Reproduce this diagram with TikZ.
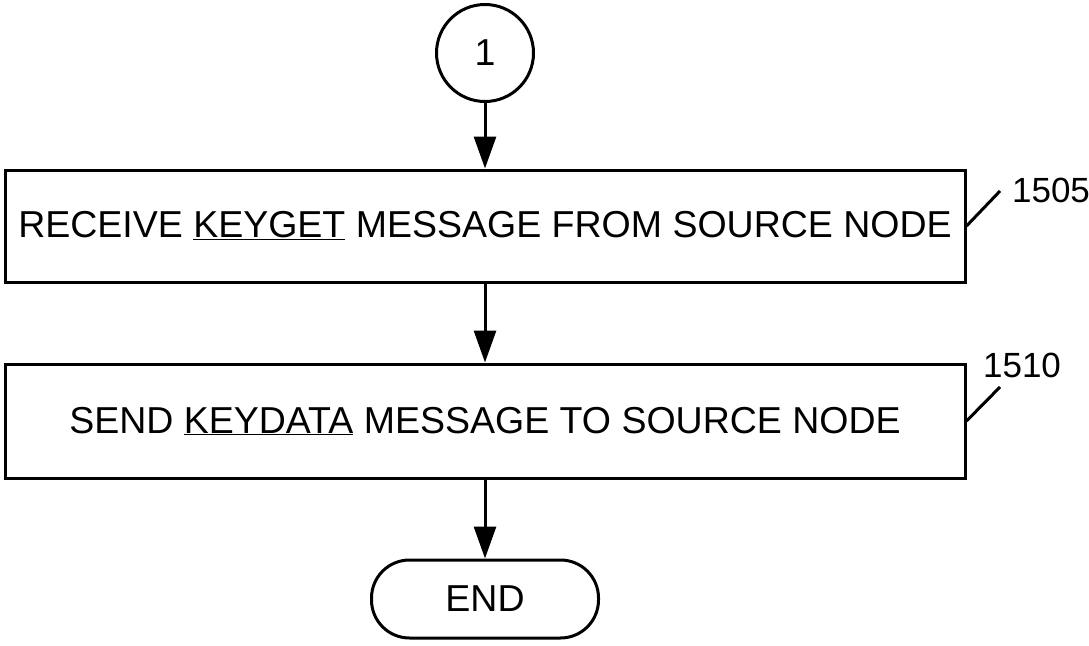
\documentclass[tikz,border=0pt]{standalone}
\usepackage{fontspec}
\setmainfont{Liberation Sans}
\usepackage{tikz}
\usetikzlibrary{arrows.meta}
\tikzset{stepbox/.style={draw, rectangle, line width=3pt, minimum width=960pt, inner sep=0pt, font=\fontsize{37.5}{45}\selectfont},
  conn/.style={line width=3pt, -{Triangle[length=32pt,width=22pt]}},
  reflabel/.style={inner sep=0pt, font=\fontsize{35}{42}\selectfont}}

\begin{document}
\begin{tikzpicture}[x=1pt, y=-1pt]
    \useasboundingbox (0,0) rectangle (1089,645);
    \node [draw, circle, line width=3pt, minimum size=97pt, inner sep=0pt, font=\fontsize{37.5}{45}\selectfont] (c1) at (485,53) {1};
    \node [stepbox, minimum height=112pt] (rcv) at (485,226) {RECEIVE \underline{KEYGET} MESSAGE FROM SOURCE NODE};
    \node [stepbox, minimum height=114pt] (snd) at (485,421) {SEND \underline{KEYDATA} MESSAGE TO SOURCE NODE};
    \node [draw, rectangle, rounded corners=38pt, line width=3pt, minimum width=227pt, minimum height=78pt, inner sep=0pt, font=\fontsize{37.5}{45}\selectfont] (end) at (485,599) {END};
    \draw [conn] (c1) -- (rcv);
    \draw [conn] (rcv) -- (snd);
    \draw [conn] (snd) -- (end);
    \node [reflabel] (l1505) at (1051,190) {1505};
    \node [reflabel] (l1510) at (1022,365) {1510};
    \coordinate (t1505) at (1000,191);
    \coordinate (t1510) at (1000,387);
    \draw [line width=3pt] (rcv.east) -- (t1505);
    \draw [line width=3pt] (snd.east) -- (t1510);
  \end{tikzpicture}
\end{document}
